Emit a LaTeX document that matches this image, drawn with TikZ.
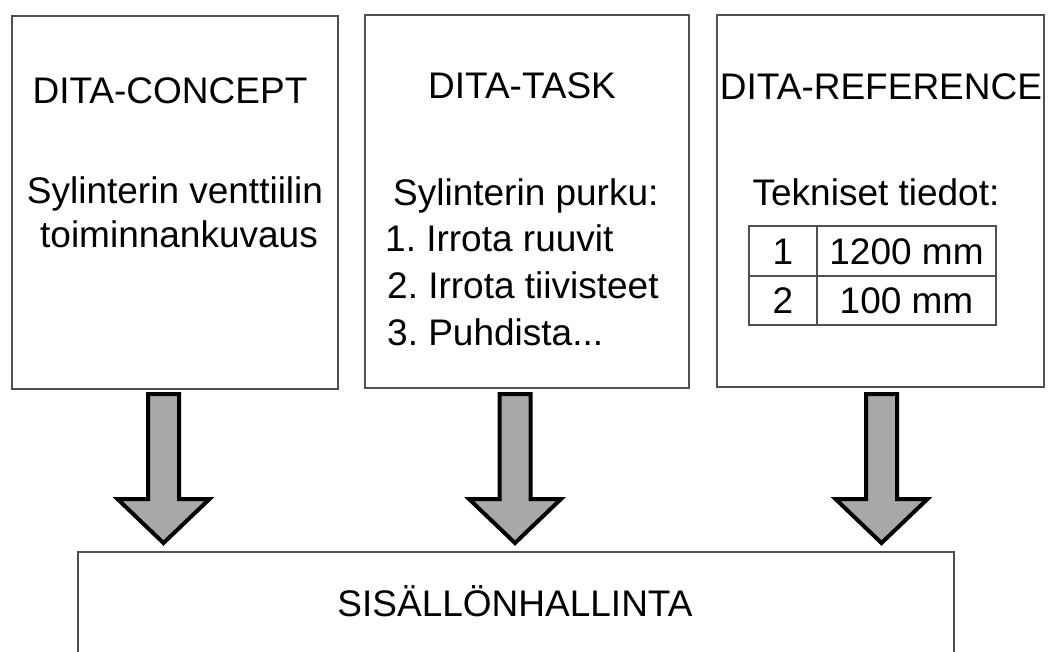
\documentclass[tikz,border=0pt]{standalone}
\usepackage{fontspec}
\setmainfont{Liberation Sans}
\usetikzlibrary{calc}
\frenchspacing
\definecolor{boxline}{RGB}{80,80,80}
\definecolor{arrowgray}{RGB}{168,168,168}
\tikzset{
  panel/.style={draw=boxline, line width=1.6pt, fill=white, inner sep=0pt},
  cell/.style={draw=boxline, line width=1.4pt, inner sep=0pt, text height=26.5pt, text depth=0pt, font=\fontsize{37}{44}\selectfont},
  txt/.style={inner sep=0pt, font=\fontsize{37}{44}\selectfont},
  barrow/.style={draw=black, line width=4pt, fill=arrowgray, line join=miter},
}
\newcommand{\blockarrow}[2]{%
  \draw[barrow] let \p1=(#1), \p2=(#2) in
    (\x1-15.5pt,\y1) -- (\x1+15.5pt,\y1) -- (\x1+15.5pt,\y2+44pt)
    -- (\x1+46pt,\y2+44pt) -- (\x2,\y2) -- (\x1-46pt,\y2+44pt)
    -- (\x1-15.5pt,\y2+44pt) -- cycle;}
\begin{document}
\begin{tikzpicture}[x=1pt,y=-1pt]
\useasboundingbox (0,0) rectangle (1049,651);
\clip (0,0) rectangle (1049,651);
\fill[white] (0,0) rectangle (1049,651);

% panels
\node[panel, minimum width=326pt, minimum height=373pt] (concept) at (175,202.5) {};
\node[panel, minimum width=324pt, minimum height=373pt] (task) at (527,201.5) {};
\node[panel, minimum width=327pt, minimum height=372pt] (ref) at (880.5,201) {};
\node[panel, minimum width=876pt, minimum height=200pt] (cms) at (516,652) {};

% concept texts
\node[txt, anchor=base] (ch) at (170,103) {DITA-CONCEPT};
\node[txt, anchor=base] (c1) at (175,203) {Sylinterin venttiilin};
\node[txt, anchor=base] (c2) at (179,247) {toiminnankuvaus};

% task texts
\node[txt, anchor=base] (th) at (522,98) {DITA-TASK};
\node[txt, anchor=base west] (t0) at (393,205) {Sylinterin purku:};
\node[txt, anchor=base west] (t1) at (385,251) {1. Irrota ruuvit};
\node[txt, anchor=base west] (t2) at (387,298) {2. Irrota tiivisteet};
\node[txt, anchor=base west] (t3) at (387,345) {3. Puhdista...};

% reference texts
\node[txt, anchor=base] (rh) at (881,99) {DITA-REFERENCE};
\node[txt, anchor=base] (r0) at (876,205) {Tekniset tiedot:};
\node[cell, minimum width=68pt, minimum height=50pt] (k1) at (783,251) {1};
\node[cell, minimum width=179pt, minimum height=50pt] (v1) at (906.5,251) {1200 mm};
\node[cell, minimum width=68pt, minimum height=49pt] (k2) at (783,300.5) {2};
\node[cell, minimum width=179pt, minimum height=49pt] (v2) at (906.5,300.5) {100 mm};

% bottom text
\node[txt, anchor=base] (cmstext) at (515,616) {SISÄLLÖNHALLINTA};

% arrows
\coordinate (a1s) at (163.5,394);
\coordinate (a1e) at (163.5,543);
\coordinate (a2s) at (515,394);
\coordinate (a2e) at (515,543);
\coordinate (a3s) at (881.5,394);
\coordinate (a3e) at (881.5,543);
\blockarrow{a1s}{a1e}
\blockarrow{a2s}{a2e}
\blockarrow{a3s}{a3e}
\end{tikzpicture}
\end{document}
